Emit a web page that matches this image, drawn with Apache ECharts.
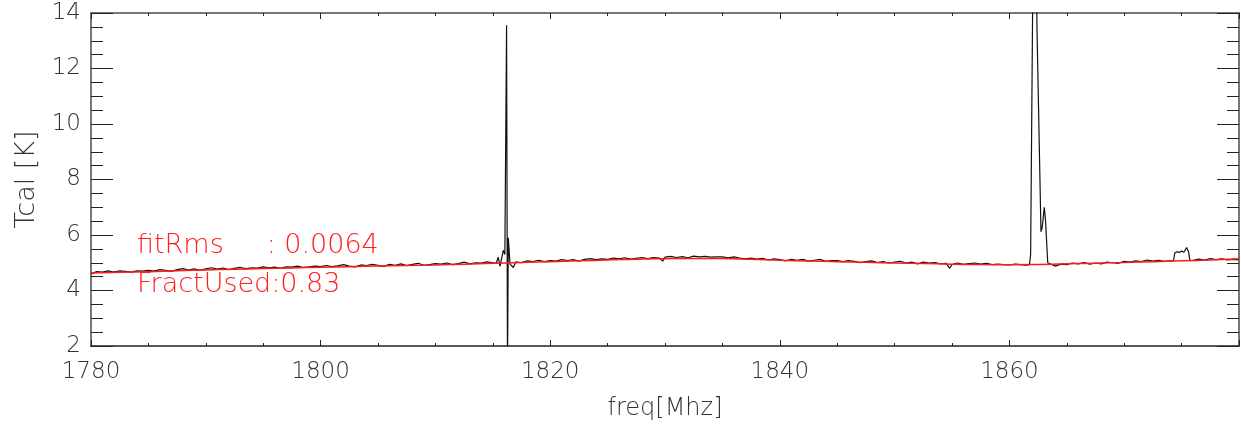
<!DOCTYPE html>
<html>
<head>
<meta charset="utf-8">
<script src="https://cdn.jsdelivr.net/npm/echarts@6/dist/echarts.min.js"></script>
<style>html,body{margin:0;padding:0;background:#fff}#c{width:1241px;height:426px}</style>
</head>
<body>
<div id="c"></div>
<script>
// measured spectrum (freq in MHz, Tcal in K)
var freq = [
1780.0,1780.5,1781.0,1781.5,1782.0,1782.5,1783.0,1783.5,1784.0,1784.5,
1785.0,1785.5,1786.0,1786.5,1787.0,1787.5,1788.0,1788.5,1789.0,1789.5,
1790.0,1790.5,1791.0,1791.5,1792.0,1792.5,1793.0,1793.5,1794.0,1794.5,
1795.0,1795.5,1796.0,1796.5,1797.0,1797.5,1798.0,1798.5,1799.0,1799.5,
1800.0,1800.5,1801.0,1801.5,1802.0,1802.5,1803.0,1803.5,1804.0,1804.5,
1805.0,1805.5,1806.0,1806.5,1807.0,1807.5,1808.0,1808.5,1809.0,1809.5,
1810.0,1810.5,1811.0,1811.5,1812.0,1812.5,1813.0,1813.5,1814.0,1814.5,
1815.0,1815.3,1815.48,1815.63,1815.91,1816.05,1816.2,1816.28,1816.35,1816.5,1816.79,
1817.0,1817.5,1818.0,1818.5,1819.0,1819.5,
1820.0,1820.5,1821.0,1821.5,1822.0,1822.5,1823.0,1823.5,1824.0,1824.5,
1825.0,1825.5,1826.0,1826.5,1827.0,1827.5,1828.0,1828.5,1829.0,1829.5,1829.8,
1830.0,1830.5,1831.0,1831.5,1832.0,1832.5,1833.0,1833.5,1834.0,1834.5,
1835.0,1835.5,1836.0,1836.5,1837.0,1837.5,1838.0,1838.5,1839.0,1839.5,
1840.0,1840.5,1841.0,1841.5,1842.0,1842.5,1843.0,1843.5,1844.0,1844.5,
1845.0,1845.5,1846.0,1846.5,1847.0,1847.5,1848.0,1848.5,1849.0,1849.5,
1850.0,1850.5,1851.0,1851.5,1852.0,1852.5,1853.0,1853.5,1854.0,1854.5,1854.8,
1855.0,1855.5,1856.0,1856.5,1857.0,1857.5,1858.0,1858.5,1859.0,1859.5,
1860.0,1860.5,1861.0,1861.5,1861.75,1861.85,1862.0,1862.1,1862.2,1862.3,1862.4,
1862.75,1862.85,1863.04,1863.15,1863.34,1863.5,
1864.0,1864.5,1865.0,1865.5,1866.0,1866.5,1867.0,1867.5,1868.0,1868.5,
1869.0,1869.5,1870.0,1870.5,1871.0,1871.5,1872.0,1872.5,1873.0,1873.5,
1874.0,1874.3,1874.4,1874.6,1874.8,1875.0,1875.2,1875.44,1875.6,1875.73,
1876.0,1876.5,1877.0,1877.5,1878.0,1878.5,1879.0,1879.5,1880.0
];
var tcal = [
4.60,4.68,4.66,4.71,4.66,4.71,4.69,4.66,4.71,4.70,
4.73,4.70,4.75,4.73,4.69,4.75,4.79,4.74,4.78,4.73,
4.78,4.82,4.77,4.81,4.75,4.80,4.83,4.79,4.82,4.81,
4.85,4.82,4.84,4.80,4.85,4.84,4.88,4.83,4.85,4.88,
4.86,4.90,4.86,4.89,4.93,4.88,4.85,4.92,4.90,4.94,
4.91,4.87,4.94,4.91,4.96,4.90,4.94,4.98,4.91,4.93,
4.97,4.95,4.99,4.93,4.97,5.02,4.96,5.00,4.99,5.03,
5.00,4.99,5.20,4.87,5.45,5.30,13.56,1.00,5.90,4.95,4.83,
5.03,5.00,5.07,5.04,5.09,5.04,
5.08,5.06,5.11,5.08,5.11,5.06,5.12,5.15,5.11,5.14,
5.12,5.17,5.14,5.18,5.13,5.16,5.19,5.15,5.19,5.17,5.06,
5.20,5.23,5.19,5.22,5.18,5.24,5.21,5.23,5.20,5.21,
5.21,5.18,5.21,5.17,5.14,5.17,5.13,5.16,5.10,5.14,
5.11,5.07,5.12,5.09,5.12,5.06,5.09,5.12,5.05,5.08,
5.08,5.04,5.08,5.05,5.00,5.04,5.07,5.01,5.04,4.99,
5.02,5.05,4.99,5.02,4.96,5.02,4.99,5.01,4.96,4.98,4.80,
4.93,4.99,4.94,4.97,4.99,4.95,4.98,4.93,4.95,4.93,
4.92,4.95,4.93,4.91,4.93,5.30,13.0,18.0,22.0,18.0,13.5,
6.12,6.25,7.00,6.50,5.00,4.95,
4.88,4.95,4.93,4.99,4.96,5.01,4.95,4.99,4.96,5.02,
5.00,4.98,5.05,5.02,5.07,5.04,5.10,5.06,5.09,5.05,
5.07,5.08,5.35,5.40,5.37,5.42,5.38,5.55,5.40,5.08,
5.09,5.13,5.10,5.15,5.11,5.14,5.10,5.12,5.11
];
// polynomial baseline fit
var fitFreq = [1780,1782.5,1785,1787.5,1790,1792.5,1795,1797.5,1800,1802.5,1805,1807.5,1810,1812.5,1815,1817.5,1820,1822.5,1825,1827.5,1830,1832.5,1835,1837.5,1840,1842.5,1845,1847.5,1850,1852.5,1855,1857.5,1860,1862.5,1865,1867.5,1870,1872.5,1875,1877.5,1880];
var fitTcal = [4.63,4.655,4.68,4.71,4.74,4.765,4.79,4.815,4.84,4.86,4.88,4.90,4.92,4.95,4.98,5.01,5.04,5.07,5.10,5.13,5.145,5.155,5.15,5.125,5.09,5.065,5.04,5.015,4.99,4.97,4.95,4.935,4.93,4.94,4.96,4.985,5.01,5.04,5.07,5.10,5.14];
var notes = ['fitRms     : 0.0064', 'FractUsed:0.83'];

var FONT = 'DejaVu Sans';
var txt = '#333';
function zip(a, b) { return a.map(function (v, i) { return [v, b[i]]; }); }
function plain(v) { return String(v); }

var chart = echarts.init(document.getElementById('c'), null, {renderer: 'canvas'});
var xBase = {
  type: 'value', min: 1780, max: 1880, interval: 20,
  splitLine: {show: false},
  minorTick: {show: true, splitNumber: 4, length: 3, lineStyle: {color: '#222', width: 1}},
  axisTick: {inside: true, length: 6, lineStyle: {color: '#222', width: 1}}
};
var yBase = {
  type: 'value', min: 2, max: 14, interval: 2,
  splitLine: {show: false},
  minorTick: {show: true, splitNumber: 4, length: 12, lineStyle: {color: '#222', width: 1}},
  axisTick: {inside: true, length: 22, lineStyle: {color: '#222', width: 1}}
};
chart.setOption({
  animation: false,
  backgroundColor: '#fff',
  grid: {left: 91, right: 2, top: 13, bottom: 78},
  xAxis: [
    Object.assign({}, xBase, {
      position: 'bottom',
      axisLine: {lineStyle: {color: '#222', width: 1.5}},
      axisLabel: {showMaxLabel: false, margin: 15, formatter: plain, fontFamily: FONT, fontWeight: 200, fontSize: 23, color: txt},
      name: 'freq[Mhz]', nameLocation: 'middle', nameGap: 51,
      nameTextStyle: {fontFamily: FONT, fontWeight: 200, fontSize: 24, color: txt}
    }),
    Object.assign({}, xBase, {
      position: 'top',
      axisLine: {lineStyle: {color: '#777', width: 2}},
      axisLabel: {show: false}
    })
  ],
  yAxis: [
    Object.assign({}, yBase, {
      position: 'left',
      axisLine: {show: true, lineStyle: {color: '#777', width: 2}},
      axisLabel: {margin: 10, formatter: plain, fontFamily: FONT, fontWeight: 200, fontSize: 23, color: txt},
      name: 'Tcal [K]', nameLocation: 'middle', nameGap: 51,
      nameTextStyle: {fontFamily: FONT, fontWeight: 200, fontSize: 27, color: txt}
    }),
    Object.assign({}, yBase, {
      position: 'right',
      axisLine: {show: true, lineStyle: {color: '#777', width: 2}},
      axisLabel: {show: false}
    })
  ],
  series: [
    {
      type: 'line', xAxisIndex: 0, yAxisIndex: 0, data: zip(freq, tcal),
      showSymbol: false, symbol: 'none', clip: true,
      lineStyle: {color: '#111', width: 1.2}, z: 2
    },
    {
      type: 'line', xAxisIndex: 0, yAxisIndex: 0, data: zip(fitFreq, fitTcal),
      showSymbol: false, symbol: 'none', smooth: true, clip: true,
      lineStyle: {color: '#ff1a1a', width: 1.5}, z: 3
    }
  ],
  graphic: [
    {type: 'text', left: 137, top: 232, style: {text: notes[0], fontFamily: FONT, fontWeight: 200, fontSize: 27, fill: '#ff2020'}, z: 10},
    {type: 'text', left: 137, top: 271, style: {text: notes[1], fontFamily: FONT, fontWeight: 200, fontSize: 27, fill: '#ff2020'}, z: 10}
  ]
});
</script>
</body>
</html>
